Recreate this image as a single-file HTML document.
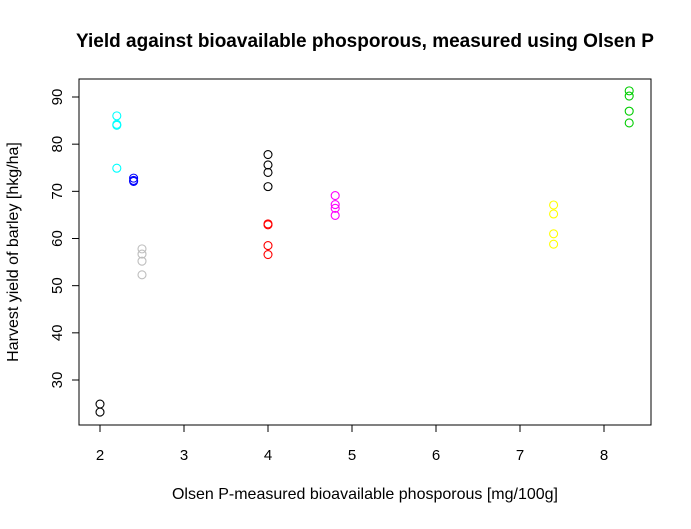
<!DOCTYPE html>
<html><head><meta charset="utf-8"><style>
body{margin:0;background:#fff;font-family:"Liberation Sans",sans-serif}
</style></head><body>
<svg width="691" height="524" xmlns="http://www.w3.org/2000/svg" font-family="Liberation Sans, sans-serif">
<rect width="691" height="524" fill="#fff"/>
<text x="365" y="47" text-anchor="middle" font-size="19" font-weight="bold">Yield against bioavailable phosporous, measured using Olsen P</text>
<rect x="79" y="79" width="572" height="346" fill="none" stroke="#000"/>
<g id="xaxis"></g>
<g id="yaxis"></g>
<text x="365" y="499" text-anchor="middle" font-size="16">Olsen P-measured bioavailable phosporous [mg/100g]</text>
<text transform="translate(18,252) rotate(-90)" text-anchor="middle" font-size="16">Harvest yield of barley [hkg/ha]</text>
<g id="points"></g>
</svg>
<script>
const xTicks=[2,3,4,5,6,7,8];
const yTicks=[30,40,50,60,70,80,90];
const groupX=[2,2.2,2.4,2.5,4,4,4.8,7.4,8.3];
const groupColor=["black","cyan","blue","#bebebe","black","red","magenta","yellow","#00cd00"];
const groupY=[[24.9,23.2],[86.0,84.2,84.0,74.9],[72.8,72.3,72.1],[57.8,56.7,55.2,52.3],[77.8,75.6,74.0,71.0],[63.1,62.9,58.5,56.6],[69.1,67.2,66.4,64.9],[67.1,65.2,61.0,58.8],[91.3,90.2,87.0,84.5]];
const NS="http://www.w3.org/2000/svg";
const sx=v=>100+(v-2)*84;
const sy=v=>380-(v-30)*283/60;
function mk(t,a,p){const e=document.createElementNS(NS,t);for(const k in a)e.setAttribute(k,a[k]);p.appendChild(e);return e;}
const xa=document.getElementById('xaxis'),ya=document.getElementById('yaxis'),pts=document.getElementById('points');
mk('line',{x1:sx(xTicks[0]),x2:sx(xTicks[xTicks.length-1]),y1:425,y2:425,stroke:'#000'},xa);
xTicks.forEach(t=>{
 const l=mk('line',{x1:sx(t),x2:sx(t),y1:425,y2:432,stroke:'#000'},xa);
 
 
 const tx=mk('text',{x:sx(t),y:460,'text-anchor':'middle','font-size':15},xa);tx.textContent=t;
 
 
});
mk('line',{x1:79,x2:79,y1:sy(yTicks[0]),y2:sy(yTicks[yTicks.length-1]),stroke:'#000'},ya);
yTicks.forEach(t=>{
 const l=mk('line',{x1:72,x2:79,y1:sy(t),y2:sy(t),stroke:'#000'},ya);
 
 
 const tx=mk('text',{x:0,y:0,'text-anchor':'middle','font-size':15,transform:`translate(${62},${sy(t)}) rotate(-90)`},ya);tx.textContent=t;
 
 
});
groupX.forEach((x,i)=>{
 groupY[i].forEach(y=>{
  const c=mk('circle',{cx:sx(x),cy:sy(y),r:4,fill:'none',stroke:groupColor[i],'stroke-width':1.1},pts);
  
  
 });
});
</script>
</body></html>
